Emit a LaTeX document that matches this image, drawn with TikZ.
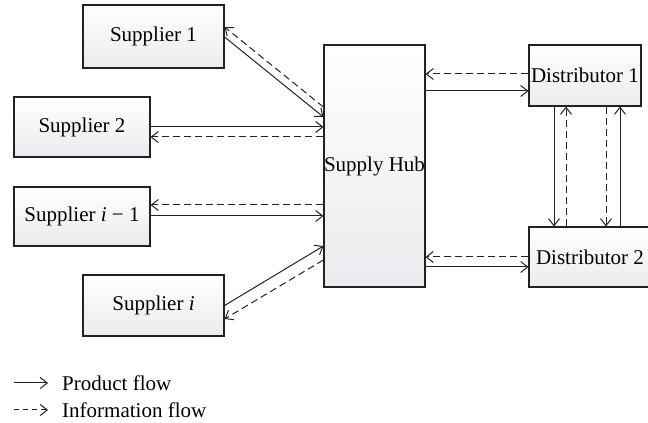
\documentclass[tikz,border=0pt]{standalone}
\usepackage{fontspec}
\setmainfont{Liberation Serif}
\usepackage{tikz}
\usetikzlibrary{positioning,calc,arrows.meta,shadings}
\definecolor{boxtop}{HTML}{FFFFFF}
\definecolor{boxbot}{HTML}{E9EBEE}
\definecolor{edge}{HTML}{222222}
\tikzset{
  unit/.style  = {rectangle, draw=edge, line width=1.1pt,
                  top color=boxtop, bottom color=boxbot,
                  font=\fontsize{21}{25}\selectfont, inner sep=0pt},
  flow/.style  = {-{Straight Barb[length=7pt,width=11pt]}, line width=1pt, edge},
  info/.style  = {flow, dash pattern=on 7pt off 4pt},
}
\begin{document}
\begin{tikzpicture}[x=1pt, y=1pt]
\useasboundingbox (0,0) rectangle (648,423);
% Suppliers on the left
\node[unit, minimum width=141pt, minimum height=63pt] (s1)  at (153.5,386.5) {Supplier 1};
\node[unit, minimum width=136pt, minimum height=60pt] (s2)  at (82,296)      {Supplier 2};
\node[unit, minimum width=136pt, minimum height=59pt] (si1) at (82,206.5)    {Supplier \textit{i} − 1};
\node[unit, minimum width=141pt, minimum height=61pt] (si)  at (153.5,117.5) {Supplier \textit{i}};
% Hub and distributors
\node[unit, minimum width=101pt, minimum height=242pt] (hub) at (374.5,257) {Supply Hub};
\node[unit, minimum width=112pt, minimum height=61pt] (d1)  at (585,347.5) {Distributor 1};
\node[unit, minimum width=122pt, minimum height=60pt] (d2)  at (590,166)   {Distributor 2};
% Suppliers <-> hub
\draw[flow] ([yshift=-0.5pt]s1.east) -- ([yshift=49pt]hub.west);
\draw[info] ([yshift=59pt]hub.west) -- ([yshift=9.5pt]s1.east);
\draw[flow] (s2.east) -- ([yshift=39pt]hub.west);
\draw[info] ([yshift=29pt]hub.west) -- ([yshift=-10pt]s2.east);
\draw[info] ([yshift=-39pt]hub.west) -- ([yshift=11.5pt]si1.east);
\draw[flow] ([yshift=0.5pt]si1.east) -- ([yshift=-50pt]hub.west);
\draw[flow] (si.east) -- ([yshift=-80pt]hub.west);
\draw[info] ([yshift=-94pt]hub.west) -- ([yshift=-13.5pt]si.east);
% Hub <-> distributors
\draw[info] ([yshift=1.5pt]d1.west) -- ([yshift=92pt]hub.east);
\draw[flow] ([yshift=75pt]hub.east) -- ([yshift=-15.5pt]d1.west);
\draw[info] (d2.west) -- ([yshift=-91pt]hub.east);
\draw[flow] ([yshift=-101pt]hub.east) -- ([yshift=-10pt]d2.west);
% Distributor 1 <-> distributor 2
\draw[flow] ([xshift=-31pt]d1.south) -- ([xshift=-31pt]d1.south |- d2.north);
\draw[info] ([xshift=-19pt]d1.south |- d2.north) -- ([xshift=-19pt]d1.south);
\draw[info] ([xshift=21pt]d1.south) -- ([xshift=21pt]d1.south |- d2.north);
\draw[flow] ([xshift=35pt]d1.south |- d2.north) -- ([xshift=35pt]d1.south);
% Legend
\coordinate (pf) at (14,40);
\coordinate (if) at (14,13);
\node[anchor=west, font=\fontsize{21}{25}\selectfont, inner sep=0pt] (pftext) at (62,40) {Product flow};
\node[anchor=west, font=\fontsize{21}{25}\selectfont, inner sep=0pt] (iftext) at (62,13) {Information flow};
\draw[flow] (pf) -- ([xshift=-14pt]pftext.west);
\draw[info, dash pattern=on 5pt off 4pt] (if) -- ([xshift=-14pt]iftext.west);
\end{tikzpicture}
\end{document}
